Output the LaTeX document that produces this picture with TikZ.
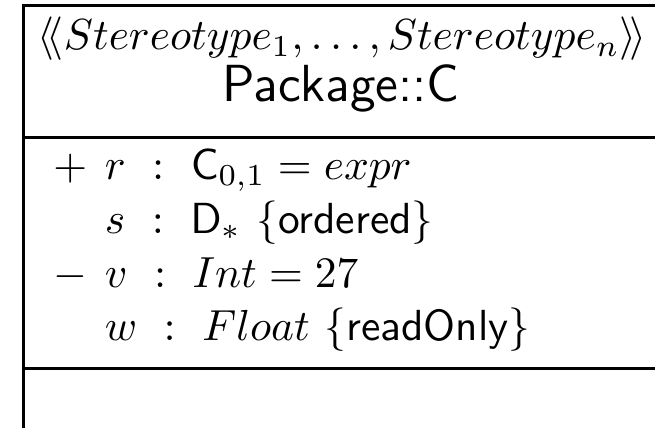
\documentclass[tikz,border=0pt]{standalone}
\usepackage{amsmath}
\usetikzlibrary{positioning}
\tikzset{
	rule/.style={line width=0.7pt}, % filete de la caja de clase
	row/.style={inner sep=0pt, text height=8.5pt, text depth=3.5pt}, % fila de atributo
	node distance=0pt % filas pegadas
}
\newcommand{\vis}[1]{\makebox[11.8pt][l]{$#1$}}

\begin{document}
\begin{tikzpicture}[x=1pt, y=1pt]
	\useasboundingbox (0,0) rectangle (150.6,-98.2);
	\clip (0,0) rectangle (150.6,-98.2);
	% esquinas y separadores
	\coordinate (tl) at (5.3,-1.3);
	\coordinate (tr) at (200,-1.3);
	\coordinate (ml) at (5.3,-31.7);
	\coordinate (mr) at (200,-31.7);
	\coordinate (bl) at (5.3,-84.8);
	\coordinate (br) at (200,-84.8);
	\coordinate (end) at (5.3,-120);
	\draw[rule] (tr) -- (tl) -- (end);
	\draw[rule] (ml) -- (mr);
	\draw[rule] (bl) -- (br);
	% cabecera
	\node[anchor=base] (stereo) at (78.6,-11.4) {$\langle\!\langle Stereotype_1, \ldots, Stereotype_n \rangle\!\rangle$};
	\node[anchor=base, font=\large\sffamily] (name) at (78.4,-23.4) {Package::C};
	% atributos
	\node[row, anchor=base west] (r) at (12.1,-41.2) {\vis{+}$r \ :\ \mathsf{C}_{0,1} = expr$};
	\node[row, below=of r.south west, anchor=north west] (s) {\vis{}$s \ :\ \mathsf{D}_{*}$ $\{\textsf{ordered}\}$};
	\node[row, below=of s.south west, anchor=north west] (v) {\vis{-}$v \ :\ Int = 27$};
	\node[row, below=of v.south west, anchor=north west] (w) {\vis{}$w \ :\ Float$ $\{\textsf{readOnly}\}$};
\end{tikzpicture}
\end{document}
